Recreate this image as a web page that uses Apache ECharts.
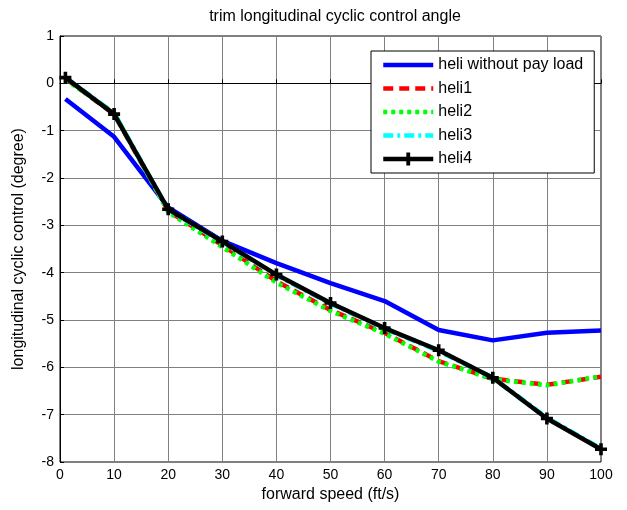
<!DOCTYPE html>
<html>
<head>
<meta charset="utf-8">
<script src="https://cdn.jsdelivr.net/npm/echarts@6/dist/echarts.min.js"></script>
<style>html,body{margin:0;padding:0;background:#fff}#c{width:627px;height:510px}</style>
</head>
<body>
<div id="c"></div>
<script>
const speeds = [1,10,20,30,40,50,60,70,80,90,100];
const heliNoLoad = [-0.33,-1.13,-2.62,-3.33,-3.80,-4.22,-4.60,-5.21,-5.43,-5.27,-5.22];
const heli1 = [0.10,-0.65,-2.70,-3.42,-4.18,-4.79,-5.27,-5.87,-6.24,-6.37,-6.20];
const heli2 = [0.08,-0.62,-2.72,-3.46,-4.21,-4.81,-5.29,-5.88,-6.25,-6.38,-6.19];
const heli3 = [0.12,-0.64,-2.67,-3.35,-4.05,-4.65,-5.18,-5.65,-6.22,-7.07,-7.72];
const heli4 = [0.12,-0.65,-2.66,-3.34,-4.04,-4.64,-5.17,-5.64,-6.22,-7.08,-7.73];
const xTicks = [0,10,20,30,40,50,60,70,80,90,100];
const yTicks = [-8,-7,-6,-5,-4,-3,-2,-1,0,1];

const FONT = 'Liberation Sans, Arial, sans-serif';
const pair = arr => speeds.map((s,i)=>[s,arr[i]]);
const plus = 'path://M3.5,0L6.5,0L6.5,3.5L10,3.5L10,6.5L6.5,6.5L6.5,10L3.5,10L3.5,6.5L0,6.5L0,3.5L3.5,3.5Z';
const hide = {opacity:0};

const chart = echarts.init(document.getElementById('c'), null, {renderer:'canvas'});
chart.setOption({
  animation:false,
  backgroundColor:'#fff',
  title:{text:'trim longitudinal cyclic control angle',left:330,top:4,textAlign:'center',
    textStyle:{fontFamily:FONT,fontSize:16,fontWeight:'normal',color:'#000'}},
  grid:{left:60,right:26,top:36,bottom:48,show:true,borderColor:'#000',borderWidth:1,backgroundColor:'transparent'},
  legend:{
    orient:'vertical',left:371,top:51,
    padding:[6,11,6,10],itemGap:7.5,itemWidth:50,itemHeight:16,
    backgroundColor:'#fff',borderColor:'#000',borderWidth:1,borderRadius:0,
    lineStyle:{width:4.5},
    textStyle:{fontFamily:FONT,fontSize:16,color:'#000'},
    data:[
      {name:'heli without pay load',itemStyle:hide},
      {name:'heli1',itemStyle:hide},
      {name:'heli2',itemStyle:hide},
      {name:'heli3',itemStyle:hide},
      {name:'heli4'}
    ]
  },
  xAxis:{type:'value',min:0,max:100,interval:10,
    name:'forward speed (ft/s)',nameLocation:'middle',nameGap:22,
    nameTextStyle:{fontFamily:FONT,fontSize:16,color:'#000'},
    axisLine:{show:true,lineStyle:{color:'#000',width:1}},
    axisTick:{show:true,inside:true,length:4,lineStyle:{color:'#000'}},
    axisLabel:{fontFamily:FONT,fontSize:14,color:'#000',margin:6,
      formatter:v=>xTicks.includes(v)?String(v):''},
    splitLine:{show:true,lineStyle:{color:'#808080',width:1}}},
  yAxis:{type:'value',min:-8,max:1,interval:1,
    name:'longitudinal cyclic control (degree)',nameLocation:'middle',nameGap:33,
    nameTextStyle:{fontFamily:FONT,fontSize:16,color:'#000'},
    axisLine:{show:true,lineStyle:{color:'#000',width:1}},
    axisTick:{show:true,inside:true,length:4,lineStyle:{color:'#000'}},
    axisLabel:{fontFamily:FONT,fontSize:14,color:'#000',margin:6,
      formatter:v=>yTicks.includes(v)?String(v):''},
    splitLine:{show:true,lineStyle:{color:'#808080',width:1}}},
  series:[
    {name:'heli without pay load',type:'line',data:pair(heliNoLoad),symbol:'none',
      lineStyle:{color:'#0000ff',width:4.5},itemStyle:{color:'#0000ff'}},
    {name:'heli1',type:'line',data:pair(heli1),symbol:'none',
      lineStyle:{color:'#ff0000',width:4.5,type:[10,6]},itemStyle:{color:'#ff0000'}},
    {name:'heli2',type:'line',data:pair(heli2),symbol:'none',
      lineStyle:{color:'#00ff00',width:4.5,type:[4,4]},itemStyle:{color:'#00ff00'}},
    {name:'heli3',type:'line',data:pair(heli3),symbol:'none',
      lineStyle:{color:'#00ffff',width:5,type:[10,4,3,4]},itemStyle:{color:'#00ffff'}},
    {name:'heli4',type:'line',data:pair(heli4),symbol:plus,symbolSize:12,showAllSymbol:true,
      lineStyle:{color:'#000',width:4.5},itemStyle:{color:'#000'}}
  ]
});
</script>
</body>
</html>
